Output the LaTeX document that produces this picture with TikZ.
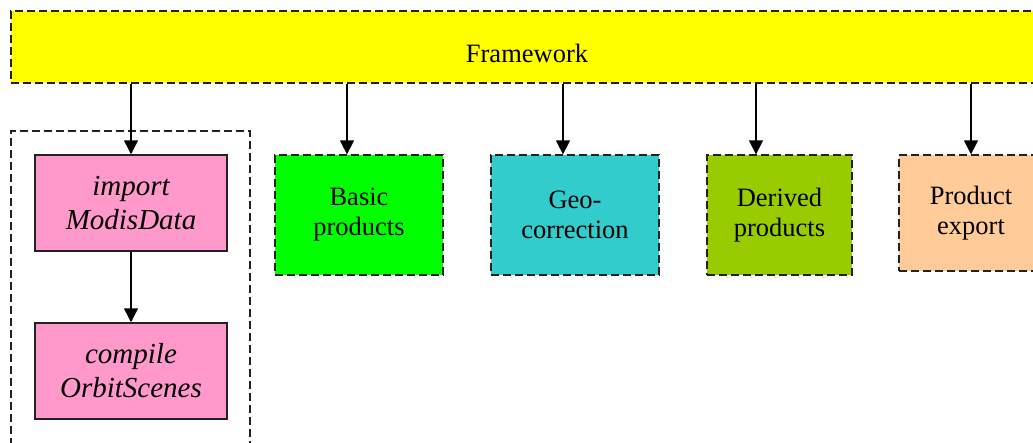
\documentclass[tikz,border=0pt]{standalone}
\usepackage{fontspec}
\setmainfont{Liberation Serif}
\usetikzlibrary{arrows.meta}
\definecolor{fwyellow}{HTML}{FFFF00}
\definecolor{modpink}{HTML}{FF99CC}
\definecolor{basicgreen}{HTML}{00FF00}
\definecolor{geocyan}{HTML}{33CCCC}
\definecolor{derivedgreen}{HTML}{99CC00}
\definecolor{exportpeach}{HTML}{FFCC99}
\definecolor{edge}{HTML}{222222}
\tikzset{
  dashbox/.style={draw=edge, line width=1.3pt, dash pattern=on 8pt off 4pt,
    inner sep=0pt, align=center, font=\fontsize{26.5}{30}\selectfont},
  modbox/.style={draw=edge, line width=1.5pt, fill=modpink, inner sep=0pt,
    minimum width=192pt, minimum height=96pt, align=center,
    font=\fontsize{29}{34}\selectfont\itshape},
  flow/.style={line width=1.5pt, -{Triangle[length=14pt,width=14pt]}},
}
\begin{document}
\begin{tikzpicture}[x=1pt,y=-1pt]
  \useasboundingbox (0,0) rectangle (1033,442);
  \clip (0,0) rectangle (1033,442);

  % framework bar
  \node[dashbox, fill=fwyellow, minimum width=1032pt, minimum height=72pt] (fw) at (527,47) {};
  \node[font=\fontsize{26.5}{30}\selectfont, anchor=base] (fwlabel) at (527,62) {Framework};

  % grouping frame around the import steps
  \draw[edge, line width=1.3pt, dash pattern=on 8pt off 4pt] (11,470) -- (11,131) -- (250,131) -- (250,470);

  % import steps
  \node[modbox] (imp) at (131,203) {import\\ModisData};
  \node[modbox] (orb) at (131,371) {compile\\OrbitScenes};

  % product stages
  \node[dashbox, fill=basicgreen, minimum width=168pt, minimum height=120pt] (basic) at (359,215) {Basic\\products};
  \node[dashbox, fill=geocyan, minimum width=168pt, minimum height=120pt] (geo) at (575,215) {Geo-\\correction};
  \node[dashbox, fill=derivedgreen, minimum width=145pt, minimum height=120pt] (der) at (779.5,215) {Derived\\products};
  \node[dashbox, fill=exportpeach, minimum width=144pt, minimum height=116pt] (exp) at (971,213) {Product\\export};

  % connectors
  \draw[flow] (fw.south -| imp.north) -- (imp.north);
  \draw[flow] (imp.south) -- (orb.north);
  \draw[flow] (fw.south -| 347,0) -- (basic.north -| 347,0);
  \draw[flow] (fw.south -| 563,0) -- (geo.north -| 563,0);
  \draw[flow] (fw.south -| 756,0) -- (der.north -| 756,0);
  \draw[flow] (fw.south -| exp.north) -- (exp.north);
\end{tikzpicture}
\end{document}
